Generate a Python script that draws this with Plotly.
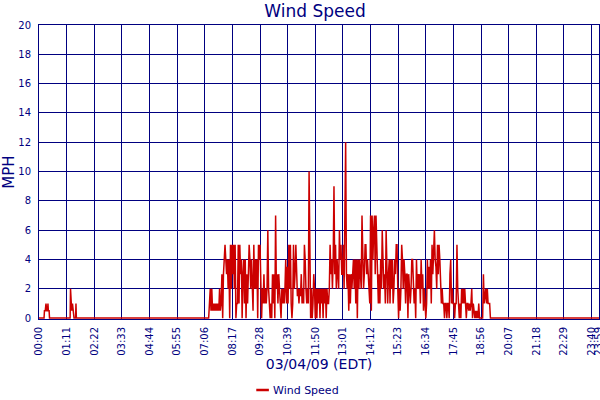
import plotly.graph_objects as go

# ---- text ----
chart_title = "Wind Speed"
y_title = "MPH"
x_title = "03/04/09 (EDT)"
series_name = "Wind Speed"

# ---- axis ticks ----
tick_minutes = [0, 71, 142, 213, 284, 355, 426, 497, 568, 639, 710, 781,
                852, 923, 994, 1065, 1136, 1207, 1278, 1349, 1420, 1439]
tick_labels = ["00:00", "01:11", "02:22", "03:33", "04:44", "05:55", "07:06",
               "08:17", "09:28", "10:39", "11:50", "13:01", "14:12", "15:23",
               "16:34", "17:45", "18:56", "20:07", "21:18", "22:29", "23:40",
               "23:59"]
y_ticks = [0, 2, 4, 6, 8, 10, 12, 14, 16, 18, 20]

# ---- data: early-morning readings (minute of day, mph) ----
early_minutes = [0, 13, 14, 16, 18, 20, 22, 23, 24, 26, 27,
                 80, 81, 82, 84, 86, 88, 89, 90, 94, 95, 96]
early_mph = [0, 0, 0.5, 0.5, 1, 0.5, 0.5, 1, 0.5, 0.5, 0,
             0, 2, 1, 0.5, 1, 0.5, 0.5, 0, 0, 1, 0]

# ---- data: daytime readings, one every 2 minutes, per hour ----
sample_step = 2
h07 = [0, 0, 0, 0, 0, 0, 0, 0, 0, 1, 2, 0.5, 2, 0.5, 1, 0.5, 1, 0.5, 1, 0.5,
       1, 0.5, 2, 0.5, 1, 3, 0, 3, 4, 5]
h08 = [4, 3, 4, 2, 4, 0, 5, 2, 5, 3, 5, 2, 5, 0, 1, 1, 5, 1, 5, 3,
       4, 0, 3, 4, 1, 4, 0, 3, 1, 3]
h09 = [5, 4, 2, 4, 1, 0.5, 5, 2, 4, 2, 4, 0, 5, 4, 5, 2, 0, 2, 1, 3,
       1, 2, 1, 2, 6, 2, 1, 0, 1, 0]
h10 = [3, 1, 3, 0, 7, 2, 3, 1, 3, 2, 1, 0, 2, 1, 2, 1, 2, 4, 1, 3.5,
       1, 5, 2, 5, 1, 0, 1, 5, 2, 3]
h11 = [5, 2, 1.5, 2, 1, 2, 1.5, 3, 1, 2, 1, 5, 4, 2, 1, 2, 1, 10, 2, 0,
       2, 0, 1, 3, 2, 0, 2, 0, 2, 1]
h12 = [2, 0, 2, 1, 2, 0, 2, 1, 2, 0, 2, 1, 1, 2, 5, 3, 4, 2, 4, 9,
       3, 5, 2, 4, 3, 2, 6, 4, 5, 3]
h13 = [3, 5, 2, 7, 12, 3, 2, 3, 0.5, 3, 1, 3, 2, 3, 4, 2, 4, 1, 4, 0,
       4, 2, 4, 3, 2, 7, 3, 2, 3, 5]
h14 = [5, 3, 4, 3, 2, 1, 7, 0.5, 7, 4, 6, 7, 3, 7, 5, 3, 1, 3, 1, 4,
       2, 6, 3, 2, 3, 1, 6, 4, 1, 3]
h15 = [4, 1, 4, 2, 4, 1, 2, 4, 3, 5, 5, 2, 0, 2, 0.5, 2, 5, 4, 2, 4,
       3, 1, 3, 3, 0, 3, 2, 1, 2, 4]
h16 = [4, 2, 1, 2, 0, 4, 2, 3, 2, 3, 1, 4, 2, 3, 0.5, 2, 1, 0, 1, 4,
       2, 3.5, 2, 4, 1, 5, 3, 5, 6, 4]
h17 = [3.5, 2, 5, 3, 5, 4, 2, 1, 2, 1, 1, 0, 1, 1, 0, 1, 1, 0, 3, 4,
       1, 2, 1, 1, 0, 1, 1, 5, 2, 1]
h18 = [0, 1, 0, 2, 1, 2, 1, 2, 1, 0, 1, 1, 0.5, 1, 0.5, 1, 2, 0, 1, 0.5,
       0, 0.5, 0, 0.5, 0, 1, 0, 0, 0, 0]
h19 = [0, 3, 1, 1.5, 2, 1, 2, 1, 1, 1, 0, 0, 0, 0, 0]

hour_starts = [420, 480, 540, 600, 660, 720, 780, 840, 900, 960, 1020, 1080, 1140]
hour_values = [h07, h08, h09, h10, h11, h12, h13, h14, h15, h16, h17, h18, h19]
end_minute = 1439
end_mph = 0

minutes = list(early_minutes)
mph = list(early_mph)
for start, vals in zip(hour_starts, hour_values):
    for i, v in enumerate(vals):
        minutes.append(start + sample_step * i)
        mph.append(v)
minutes.append(end_minute)
mph.append(end_mph)

# ---- style ----
NAVY = "#000080"
RED = "#cc0000"
FONT = "DejaVu Sans"

fig = go.Figure()
fig.add_trace(go.Scatter(
    x=minutes, y=mph, mode="lines", name=series_name,
    line=dict(color=RED, width=1.5), showlegend=False,
    hovertemplate="%{y} mph<extra></extra>",
))

fig.update_layout(
    width=600, height=400,
    margin=dict(l=39, r=1, t=25, b=81),
    paper_bgcolor="white", plot_bgcolor="white",
    font=dict(family=FONT, color=NAVY),
    title=dict(text=chart_title, x=0.493, xref="paper", xanchor="center",
               y=0.973, yref="container", yanchor="middle", automargin=False,
               font=dict(family=FONT, size=17, color=NAVY)),
    xaxis=dict(
        range=[0, end_minute], tickmode="array",
        tickvals=tick_minutes, ticktext=tick_labels, tickangle=-90,
        tickfont=dict(family=FONT, size=10, color=NAVY),
        ticklabeloverflow="allow",
        showgrid=True, gridcolor=NAVY, gridwidth=1,
        showline=True, linecolor=NAVY, linewidth=1, mirror=True,
        zeroline=False, ticks="", ticklabelstandoff=3, automargin=False,
        title=dict(text=x_title, font=dict(family=FONT, size=14, color=NAVY),
                   standoff=4),
    ),
    yaxis=dict(
        range=[-0.06, 20], tickmode="array", tickvals=y_ticks,
        tickfont=dict(family=FONT, size=10, color=NAVY),
        showgrid=True, gridcolor=NAVY, gridwidth=1,
        showline=True, linecolor=NAVY, linewidth=1, mirror=True,
        zeroline=False, ticks="", ticklabelstandoff=5, automargin=False,
        title=dict(text=y_title, font=dict(family=FONT, size=15, color=NAVY),
                   standoff=6),
    ),
)

# legend key drawn below the axis title
legend_y = -0.2415
fig.add_shape(type="line", xref="paper", yref="paper",
              x0=0.388, x1=0.4105, y0=legend_y, y1=legend_y,
              line=dict(color=RED, width=2.5))
fig.add_annotation(text=series_name, xref="paper", yref="paper",
                   x=0.414, y=legend_y, xanchor="left", yanchor="middle",
                   showarrow=False, font=dict(family=FONT, size=11, color=NAVY))

fig.write_html("out.html",
               config={"displayModeBar": False},
               post_script="document.body.style.margin='0';"
                           "document.body.style.overflow='hidden';")
